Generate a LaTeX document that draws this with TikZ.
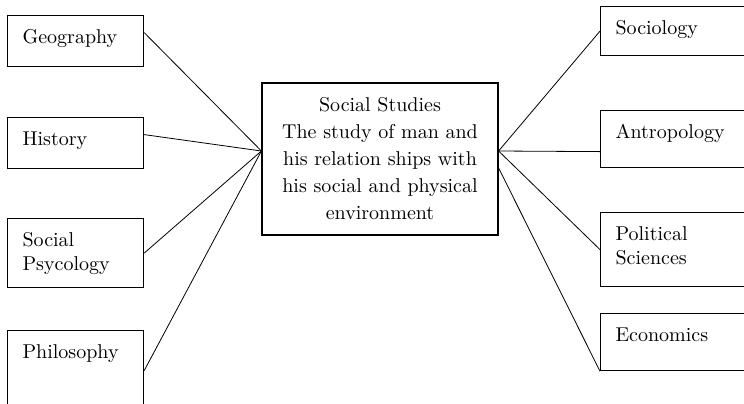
\documentclass[tikz,border=0pt]{standalone}
\usepackage{tikz}
\usetikzlibrary{calc}
\tikzset{subj/.style={draw,line width=0.6pt,anchor=north west,align=left,inner xsep=7.5pt,inner ysep=7pt,text height=7pt,text depth=#1},
         subjl/.style={subj=#1,text width=53pt},
         subjr/.style={subj=#1,text width=70pt}}
\begin{document}
\begin{tikzpicture}[x=0.5pt,y=-0.5pt]
                 \useasboundingbox (0,0) rectangle (744,403);
                 \node[subjl=4.5pt](geo)at(7,15){Geography};
                 \node[subjl=4.5pt](hist)at(7,117){History};
                 \node[subjl=13.5pt](psy)at(7,218){Social\\Psycology};
                 \node[subjl=19pt](phil)at(7,330){Philosophy};
                 \node[subjr=3.5pt](soc)at(600,6){Sociology};
                 \node[subjr=7.5pt](ant)at(600,110){Antropology};
                 \node[subjr=16pt](pol)at(600,212){Political\\Sciences};
                 \node[subjr=7.5pt](eco)at(600,313){Economics};
                 \node[draw,line width=0.6pt,minimum width=118pt,minimum height=76pt,align=center,font=\fontsize{10}{13.5}\selectfont](core)at(380,159){Social Studies\\The study of man and\\his relation ships with\\his social and physical\\environment};
                 \draw([yshift=4pt]core.west)--([yshift=4.25pt]geo.east);
                 \draw([yshift=4pt]core.west)--([yshift=4.25pt]hist.east);
                 \draw([yshift=4pt]core.west)--(psy.east);
                 \draw([yshift=4pt]core.west)--(phil.east);
                 \draw([yshift=4pt]core.east)--(soc.west);
                 \draw([yshift=4pt]core.east)--([yshift=-6.25pt]ant.west);
                 \draw([yshift=4pt]core.east)--(pol.west);
                 \draw([yshift=-4.5pt]core.east)--(eco.south west);
               \end{tikzpicture}
\end{document}
